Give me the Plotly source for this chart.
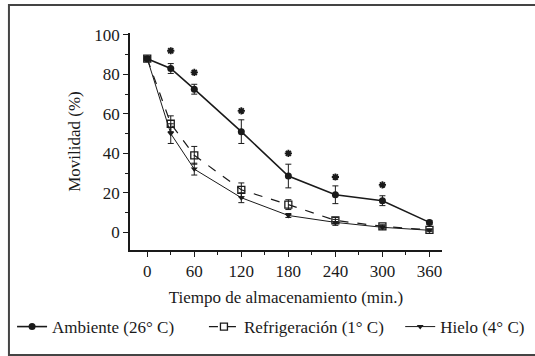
import plotly.graph_objects as go

tiempo = [0, 30, 60, 120, 180, 240, 300, 360]
ambiente = [88, 83, 72.5, 51, 28.5, 19, 16, 5]
ambiente_err = [1, 2.5, 2.5, 6, 6, 4.5, 2.5, 1]
refrig = [88, 55, 39, 21.5, 14, 6, 3, 1.2]
refrig_err = [1, 4, 4.5, 3.5, 2.5, 1.5, 0.8, 0.5]
hielo = [88, 50, 32, 17.5, 8.5, 5, 2.5, 1]
hielo_err = [1, 5, 3, 2.5, 1, 1.5, 0.8, 0.5]
sig_x = [30, 60, 120, 180, 240, 300]
sig_y = [92, 81, 61.5, 40, 28, 24]

ink = "#1a1a1a"
font_fam = "Liberation Serif"
fs = 17

fig = go.Figure()
fig.add_trace(go.Scatter(
    x=tiempo, y=ambiente, name="Ambiente (26° C)", mode="lines+markers", legend="legend",
    line=dict(color=ink, width=1.6),
    marker=dict(symbol="circle", size=7, color=ink),
    error_y=dict(type="data", array=ambiente_err, color=ink, thickness=1, width=3)))
fig.add_trace(go.Scatter(
    x=tiempo, y=refrig, name="Refrigeración (1° C)", mode="lines+markers", legend="legend2",
    line=dict(color=ink, width=1.2, dash="dash"),
    marker=dict(symbol="square-open", size=7, color=ink, line=dict(width=1.3)),
    error_y=dict(type="data", array=refrig_err, color=ink, thickness=1, width=3)))
fig.add_trace(go.Scatter(
    x=tiempo, y=hielo, name="Hielo (4° C)", mode="lines+markers", legend="legend3",
    line=dict(color=ink, width=1),
    marker=dict(symbol="triangle-down", size=6, color=ink),
    error_y=dict(type="data", array=hielo_err, color=ink, thickness=1, width=3)))
fig.add_trace(go.Scatter(
    x=sig_x, y=sig_y, mode="markers",
    marker=dict(symbol="asterisk", size=6, color=ink, line=dict(color=ink, width=1.8)),
    showlegend=False, hoverinfo="skip"))

leg_common = dict(y=-0.355, yanchor="middle", xanchor="left", font=dict(size=fs),
                  bgcolor="rgba(0,0,0,0)", itemwidth=30)

fig.update_layout(
    width=535, height=356,
    margin=dict(l=130, r=93, t=33, b=106, autoexpand=False),
    paper_bgcolor="white", plot_bgcolor="white",
    font=dict(family=font_fam, size=fs, color=ink),
    showlegend=True,
    legend=dict(x=-0.378, **leg_common),
    legend2=dict(x=0.237, **leg_common),
    legend3=dict(x=0.866, **leg_common),
    shapes=[dict(type="rect", xref="paper", yref="paper",
                 x0=-0.388, x1=1.35, y0=-0.484, y1=1.129,
                 line=dict(color="#444", width=2))],
)
fig.update_xaxes(
    range=[-22, 376], tickvals=[0, 60, 120, 180, 240, 300, 360],
    ticks="outside", ticklen=5, tickwidth=1.2, tickcolor=ink,
    minor=dict(tickvals=[30, 90, 150, 210, 270, 330], ticks="outside", ticklen=3, tickcolor=ink),
    showline=True, linecolor=ink, linewidth=1.5, showgrid=False, zeroline=False,
    title=dict(text="Tiempo de almacenamiento (min.)", standoff=11, font=dict(size=fs)),
    tickfont=dict(size=fs))
fig.update_yaxes(
    range=[-9, 101], tickvals=[0, 20, 40, 60, 80, 100],
    ticks="outside", ticklen=5, tickwidth=1.2, tickcolor=ink,
    minor=dict(tickvals=[10, 30, 50, 70, 90], ticks="outside", ticklen=3, tickcolor=ink),
    showline=True, linecolor=ink, linewidth=1.5, showgrid=False, zeroline=False,
    title=dict(text="Movilidad (%)", standoff=9, font=dict(size=fs)),
    tickfont=dict(size=fs))

fig.write_html("out.html", config={"displayModeBar": False},
               post_script="document.body.style.margin='0';")
